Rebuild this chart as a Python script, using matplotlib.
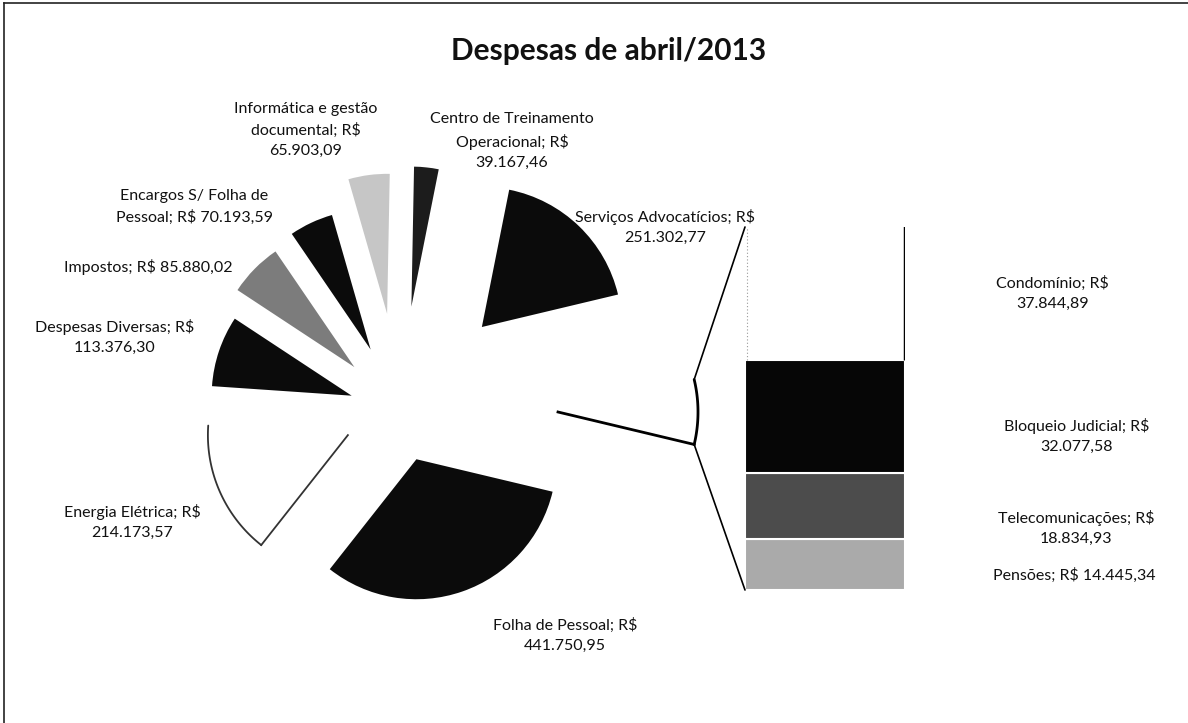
import numpy as np
import matplotlib.pyplot as plt
from matplotlib.patches import ConnectionPatch
from matplotlib.lines import Line2D

plt.rcParams["font.family"] = ["Lato", "DejaVu Sans"]

# pie slices, counterclockwise starting from the "other" slice at 3 o'clock
pie_labels = [
    "Outros",
    "Serviços Advocatícios",
    "Centro de Treinamento Operacional",
    "Informática e gestão documental",
    "Encargos S/ Folha de Pessoal",
    "Impostos",
    "Despesas Diversas",
    "Energia Elétrica",
    "Folha de Pessoal",
]
pie_texts = [
    None,
    "Serviços Advocatícios; R$\n251.302,77",
    "Centro de Treinamento\nOperacional; R$\n39.167,46",
    "Informática e gestão\ndocumental; R$\n65.903,09",
    "Encargos S/ Folha de\nPessoal; R$ 70.193,59",
    "Impostos; R$ 85.880,02",
    "Despesas Diversas; R$\n113.376,30",
    "Energia Elétrica; R$\n214.173,57",
    "Folha de Pessoal; R$\n441.750,95",
]
main_values = [251302.77, 39167.46, 65903.09, 70193.59, 85880.02,
               113376.30, 214173.57, 441750.95]

# bar of pie (bottom to top)
bar_labels = ["Pensões", "Telecomunicações", "Bloqueio Judicial", "Condomínio"]
bar_values = [14445.34, 18834.93, 32077.58, 37844.89]
bar_texts = [
    "Pensões; R$ 14.445,34",
    "Telecomunicações; R$\n18.834,93",
    "Bloqueio Judicial; R$\n32.077,58",
    "Condomínio; R$\n37.844,89",
]

other = sum(bar_values)
values = [other] + main_values
total = sum(values)

W, H = 1188, 723
fig = plt.figure(figsize=(W / 100, H / 100), dpi=100)
ax = fig.add_axes([0, 0, 1, 1])

colors = ["white", "#0b0b0b", "#1c1c1c", "#c6c6c6", "#0b0b0b",
          "#7c7c7c", "#0b0b0b", "white", "#0b0b0b"]
explode = [158, 118, 106, 99, 69, 64, 51, 57, 50]
start = -other / total * 360 / 2

wedges, _ = ax.pie(values, explode=explode, colors=colors, startangle=start,
                   counterclock=True, radius=140, center=(400, 311),
                   wedgeprops=dict(linewidth=0))


def outline(w, edge_angle, color, lw):
    # arc plus one straight edge of a wedge (the rest faded out in the scan)
    cx, cy = w.center
    t = np.radians(np.linspace(w.theta1, w.theta2, 60))
    ax.plot(cx + w.r * np.cos(t), cy + w.r * np.sin(t), color=color, lw=lw,
            solid_capstyle="round")
    a = np.radians(edge_angle)
    ax.plot([cx, cx + w.r * np.cos(a)], [cy, cy + w.r * np.sin(a)],
            color=color, lw=lw)


outline(wedges[0], wedges[0].theta1, "black", 2.0)
outline(wedges[7], wedges[7].theta2, "#333333", 1.3)

ax.set_xlim(0, W)
ax.set_ylim(0, H)
ax.axis("off")

# label positions (pixels, y up)
label_pos = [None, (665, 496), (512, 582), (306, 593), (194, 516), (148, 456),
             (115, 386), (132, 201), (565, 88)]
for txt, pos in zip(pie_texts, label_pos):
    if txt is None:
        continue
    ax.text(pos[0], pos[1], txt, ha="center", va="center", fontsize=11.5,
            linespacing=1.55, color="#111111")

ax.text(609, 672, "Despesas de abril/2013", ha="center", va="center",
        fontsize=21.5, fontweight="bold", color="#111111")

# stacked bar
ax_bar = fig.add_axes([745 / W, 133 / H, 160 / W, 363 / H])
bar_colors = ["#aaaaaa", "#4c4c4c", "#060606", "white"]
bottom = 0
mids = []
for v, c in zip(bar_values, bar_colors):
    ax_bar.bar(0, v, bottom=bottom, width=1, color=c,
               edgecolor="white" if c != "white" else "none", linewidth=1.5)
    mids.append(bottom + v / 2)
    bottom += v
total_bar = bottom
ax_bar.vlines(0.5, total_bar - bar_values[-1], total_bar * 1.02, color="black",
              linewidth=2.5)
ax_bar.vlines(-0.49, total_bar - bar_values[-1], total_bar, color="#999999",
              linewidth=0.8, linestyles=(0, (1, 2)))
ax_bar.set_xlim(-0.5, 0.5)
ax_bar.set_ylim(0, total_bar)
ax_bar.axis("off")

label_x = [1.56, 1.57, 1.57, 1.42]
nudges = [-8, -16, -14, 0]
for txt, m, lx, dy in zip(bar_texts, mids, label_x, nudges):
    ax_bar.annotate(txt, (lx, m), xytext=(0, dy), textcoords="offset points",
                    ha="center", va="center", fontsize=11.5, linespacing=1.55,
                    color="#111111", annotation_clip=False)

# connector lines from the "other" slice to the bar
w0 = wedges[0]
cx, cy = w0.center
for ang, yb in [(w0.theta2, total_bar), (w0.theta1, 0)]:
    p = (cx + w0.r * np.cos(np.radians(ang)), cy + w0.r * np.sin(np.radians(ang)))
    con = ConnectionPatch(xyA=p, coordsA=ax.transData, xyB=(-0.5, yb),
                          coordsB=ax_bar.transData, color="black", linewidth=1.2)
    fig.add_artist(con)

# chart frame (only top and left survive in the scan)
fig.add_artist(Line2D([4 / W, 4 / W], [0, 1 - 3 / H], transform=fig.transFigure,
                      color="#222222", linewidth=1.2))
fig.add_artist(Line2D([4 / W, 1], [1 - 3 / H, 1 - 3 / H], transform=fig.transFigure,
                      color="#222222", linewidth=1.2))

fig.savefig("out.png", dpi=100)
